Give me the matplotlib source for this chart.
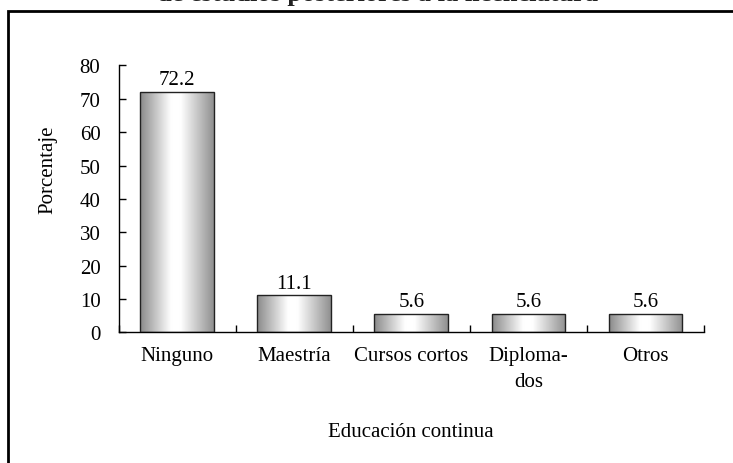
import matplotlib
matplotlib.use("Agg")
import matplotlib.pyplot as plt
from matplotlib.colors import LinearSegmentedColormap
from matplotlib.patches import Rectangle
import numpy as np

plt.rcParams['font.family'] = ['Liberation Serif', 'DejaVu Serif']

categorias = ['Ninguno', 'Maestría', 'Cursos cortos', 'Diploma-\ndos', 'Otros']
porcentaje = [72.2, 11.1, 5.6, 5.6, 5.6]
yticks = [0, 10, 20, 30, 40, 50, 60, 70, 80]
titulo = 'de estudios posteriores a la licenciatura'

fs = 15

fig = plt.figure(figsize=(7.33, 4.64), dpi=100)
ax = fig.add_axes([0.1617, 0.2813, 0.7988, 0.5754])

# frame around the chart (cut off right and bottom in the reference)
fig.add_artist(Rectangle((7.5/733, -0.1), 1.0, 1.074, transform=fig.transFigure,
                         fill=False, edgecolor='black', linewidth=2, clip_on=False))

# title, mostly cut off at the top
fig.text(0.515, 1 - 0.8/464, titulo, ha='center', va='baseline', fontsize=19,
         fontweight='bold', color='#222222')

x = np.arange(len(categorias))
bars = ax.bar(x, porcentaje, width=0.63, color='none', edgecolor='#222222',
              linewidth=1.0, zorder=3)

# horizontal gray-white-gray gradient inside each bar
cmap = LinearSegmentedColormap.from_list(
    'barra', [(0.0, '#8a8a8a'), (0.42, '#ffffff'), (0.55, '#ffffff'), (1.0, '#909090')])
grad = np.linspace(0, 1, 256).reshape(1, -1)
for b in bars:
    x0, w, h = b.get_x(), b.get_width(), b.get_height()
    im = ax.imshow(grad, cmap=cmap, aspect='auto', extent=[x0, x0 + w, 0, h],
                   zorder=2, interpolation='bicubic')
    im.set_clip_path(b)
    ax.annotate(f'{h:.1f}', (x0 + w/2, h), xytext=(0, 2), textcoords='offset points',
                ha='center', va='bottom', fontsize=fs)

ax.set_xlim(-0.5, len(categorias) - 0.5)
ax.set_ylim(0, 80)
ax.set_yticks(yticks)
ax.set_xticks(x)
ax.set_xticklabels(categorias, fontsize=fs, linespacing=1.45)
ax.set_xticks(np.arange(-0.5, len(categorias)), minor=True)
ax.tick_params(axis='x', which='major', length=0, pad=10)
ax.tick_params(axis='x', which='minor', direction='in', length=5, width=1)
ax.tick_params(axis='y', direction='in', length=5, width=1, pad=13, labelsize=fs)

for s in ['top', 'right']:
    ax.spines[s].set_visible(False)
for s in ['left', 'bottom']:
    ax.spines[s].set_linewidth(1)

ax.set_ylabel('Porcentaje', fontsize=fs)
ax.yaxis.set_label_coords(-0.12, 0.612)
ax.yaxis.label.set_va('center')
ax.set_xlabel('Educación continua', fontsize=fs)
ax.xaxis.set_label_coords(0.5, -0.372)
ax.xaxis.label.set_va('center')

fig.savefig('out.png', dpi=100)
